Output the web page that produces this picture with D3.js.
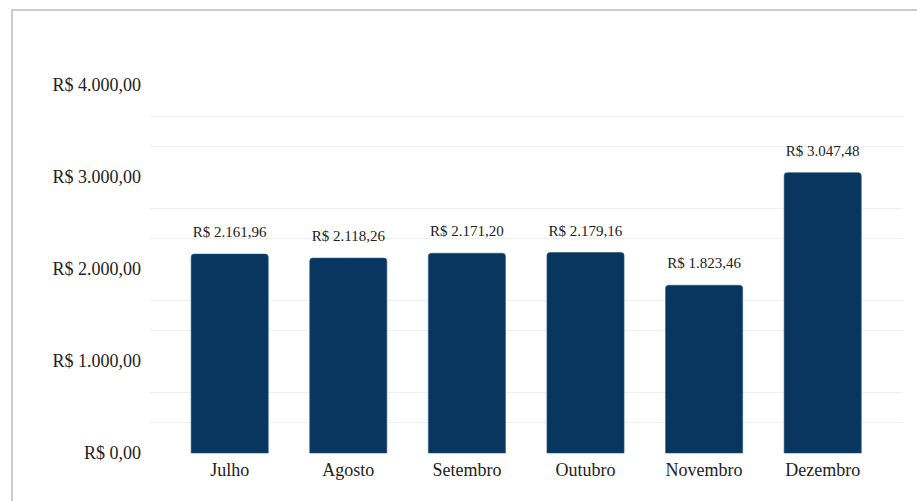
<!DOCTYPE html>
<html>
<head>
<meta charset="utf-8">
<script src="https://cdn.jsdelivr.net/npm/d3@7"></script>
<style>
  html, body { margin: 0; padding: 0; background: #fff; }
  svg { display: block; }
  text { font-family: "Liberation Serif", "Times New Roman", serif; fill: #222; }
</style>
</head>
<body>
<svg width="917" height="501"></svg>
<script>
const months = ["Julho", "Agosto", "Setembro", "Outubro", "Novembro", "Dezembro"];
const totals = [2161.96, 2118.26, 2171.20, 2179.16, 1823.46, 3047.48];
const yTicks = [0, 1000, 2000, 3000, 4000];

const svg = d3.select("svg");
const width = +svg.attr("width");
const height = +svg.attr("height");

// brl formatting: R$ 2.161,96
const brl = d3.formatLocale({
    decimal: ",",
    thousands: ".",
    grouping: [3],
    currency: ["R$ ", ""]
}).format("$,.2f");

const x = d3.scaleBand()
    .domain(months)
    .range([170.4, 882])
    .paddingInner(0.35)
    .paddingOuter(0.175);

const y = d3.scaleLinear()
    .domain([0, 4000])
    .range([453, 85]);

// outer frame
svg.append("rect")
    .attr("x", 12)
    .attr("y", 10)
    .attr("width", width + 20)
    .attr("height", height + 20)
    .attr("fill", "none")
    .attr("stroke", "#cbcbcb")
    .attr("stroke-width", 2);

// minor gridlines (thirds between the labelled values)
const minor = d3.range(1, 12).filter(k => k % 3 !== 0).map(k => k * 1000 / 3);
svg.append("g")
    .selectAll("line")
    .data(minor)
    .join("line")
    .attr("x1", 150)
    .attr("x2", 903)
    .attr("y1", d => Math.round(y(d)) + 0.5)
    .attr("y2", d => Math.round(y(d)) + 0.5)
    .attr("stroke", "#efefef")
    .attr("stroke-width", 1);

// y axis labels
const yAxis = svg.append("g")
    .attr("transform", "translate(141,0)")
    .call(d3.axisLeft(y).tickValues(yTicks).tickFormat(brl).tickSize(0).tickPadding(0));
yAxis.select(".domain").remove();
yAxis.selectAll("text")
    .style("font-family", '"Liberation Serif", "Times New Roman", serif')
    .style("font-size", "18px")
    .attr("fill", "#222");

// bars with rounded top corners
const r = 3;
svg.append("g")
    .selectAll("path")
    .data(totals)
    .join("path")
    .attr("fill", "#08365f")
    .attr("stroke", "#2a5580")
    .attr("stroke-width", 0.6)
    .attr("d", (d, i) => {
        const x0 = x(months[i]);
        const x1 = x0 + x.bandwidth();
        const top = y(d);
        const bottom = y(0);
        return `M${x0},${bottom}V${top + r}Q${x0},${top} ${x0 + r},${top}` +
               `H${x1 - r}Q${x1},${top} ${x1},${top + r}V${bottom}Z`;
    });

// value labels
svg.append("g")
    .selectAll("text")
    .data(totals)
    .join("text")
    .attr("x", (d, i) => x(months[i]) + x.bandwidth() / 2)
    .attr("y", d => y(d) - 17)
    .attr("text-anchor", "middle")
    .style("font-size", "15px")
    .text(d => brl(d));

// category labels
const xAxis = svg.append("g")
    .attr("transform", `translate(0,${y(0)})`)
    .call(d3.axisBottom(x).tickSize(0).tickPadding(10));
xAxis.select(".domain").remove();
xAxis.selectAll("text")
    .style("font-family", '"Liberation Serif", "Times New Roman", serif')
    .style("font-size", "18px")
    .attr("fill", "#222");
</script>
</body>
</html>
